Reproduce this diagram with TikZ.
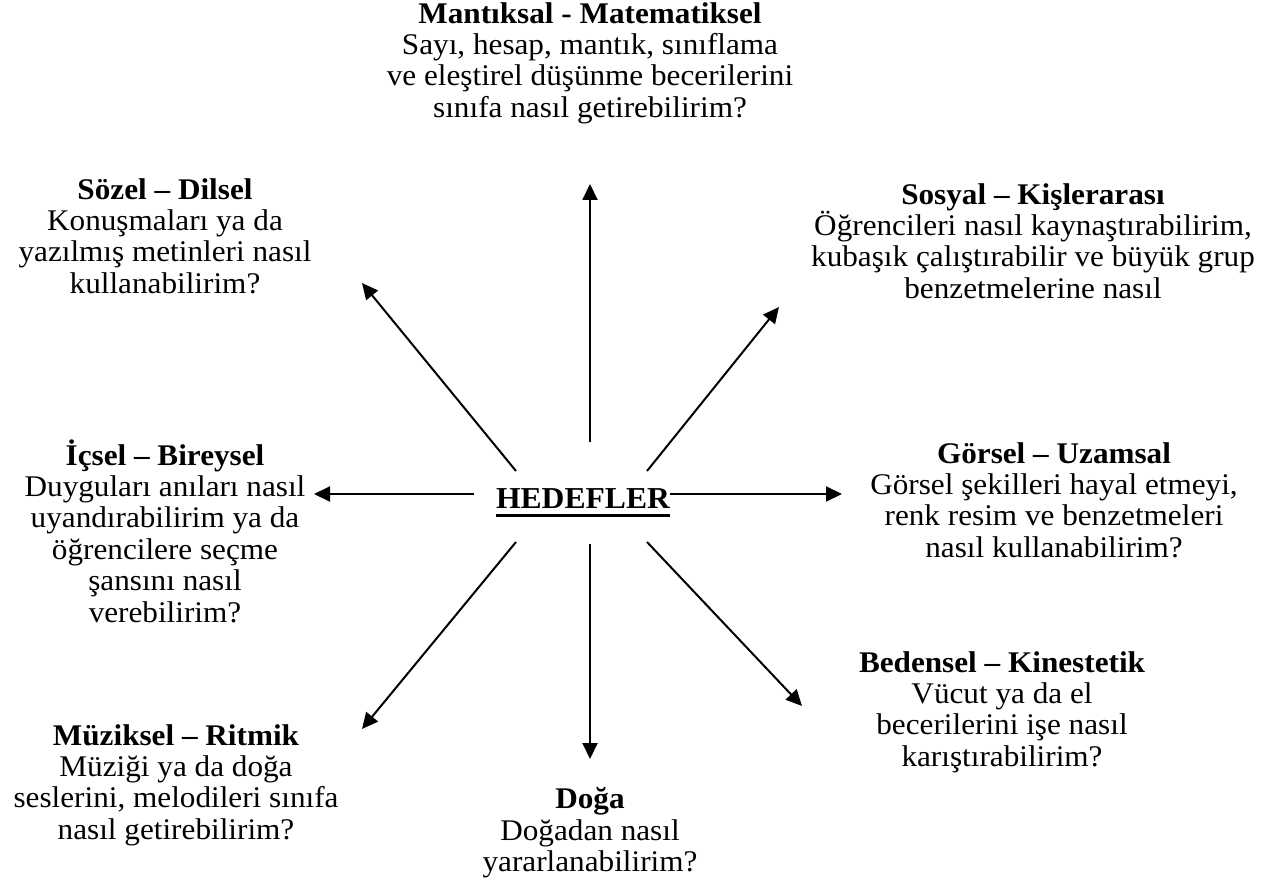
\documentclass[tikz,border=0pt]{standalone}
\usepackage{fontspec}
\setmainfont[FakeStretch=1.04]{Liberation Serif}
\usetikzlibrary{arrows.meta}

% kalin alt cizgi
\newcommand{\kalincizgi}[1]{\setbox0\hbox{#1}\rlap{\rule[-4pt]{\wd0}{1.6pt}}\box0}

\tikzset{
  blok/.style={align=center, inner sep=0pt, font=\fontsize{15}{15.7}\selectfont},
  orta/.style={inner sep=0pt, font=\fontsize{15.2}{16}\selectfont\bfseries},
  ok/.style={line width=1pt, -{Triangle[length=8pt,width=7.5pt]}}
}

\begin{document}
\begin{tikzpicture}[x=0.5pt,y=-0.5pt]
    \useasboundingbox (0,0) rectangle (1279,882);

    % orta
    \node[orta] (hedef) at (583,503) {\kalincizgi{HEDEFLER}};

    % zekalar
    \node[blok] (mantik) at (590,63) {\textbf{Mantıksal - Matematiksel}\\Sayı, hesap, mantık, sınıflama\\ve eleştirel düşünme becerilerini\\sınıfa nasıl getirebilirim?};
    \node[blok] (sosyal) at (1033,241) {\textbf{Sosyal – Kişlerarası}\\Öğrencileri nasıl kaynaştırabilirim,\\kubaşık çalıştırabilir ve büyük grup\\benzetmelerine nasıl};
    \node[blok] (sozel) at (165,236) {\textbf{Sözel – Dilsel}\\Konuşmaları ya da\\yazılmış metinleri nasıl\\kullanabilirim?};
    \node[blok] (icsel) at (165,531) {\textbf{İçsel – Bireysel}\\Duyguları anıları nasıl\\uyandırabilirim ya da\\öğrencilere seçme\\şansını nasıl\\verebilirim?};
    \node[blok] (gorsel) at (1054,500) {\textbf{Görsel – Uzamsal}\\Görsel şekilleri hayal etmeyi,\\renk resim ve benzetmeleri\\nasıl kullanabilirim?};
    \node[blok] (beden) at (1002,712) {\textbf{Bedensel – Kinestetik}\\Vücut ya da el\\becerilerini işe nasıl\\karıştırabilirim?};
    \node[blok] (muzik) at (176,785) {\textbf{Müziksel – Ritmik}\\Müziği ya da doğa\\seslerini, melodileri sınıfa\\nasıl getirebilirim?};
    \node[blok] (doga) at (590,833) {\textbf{Doğa}\\Doğadan nasıl\\yararlanabilirim?};

    % oklarin uclari
    \coordinate (a1) at (590,442); \coordinate (b1) at (590,184);
    \coordinate (a2) at (516,471); \coordinate (b2) at (362,283);
    \coordinate (a3) at (647,471); \coordinate (b3) at (779,307);
    \coordinate (a4) at (474,494); \coordinate (b4) at (314,494);
    \coordinate (a5) at (670,494); \coordinate (b5) at (842,494);
    \coordinate (a6) at (516,542); \coordinate (b6) at (362,729);
    \coordinate (a7) at (590,544); \coordinate (b7) at (590,759);
    \coordinate (a8) at (647,542); \coordinate (b8) at (802,706);

    \draw[ok] (a1) -- (b1);
    \draw[ok] (a2) -- (b2);
    \draw[ok] (a3) -- (b3);
    \draw[ok] (a4) -- (b4);
    \draw[ok] (a5) -- (b5);
    \draw[ok] (a6) -- (b6);
    \draw[ok] (a7) -- (b7);
    \draw[ok] (a8) -- (b8);
\end{tikzpicture}
\end{document}
